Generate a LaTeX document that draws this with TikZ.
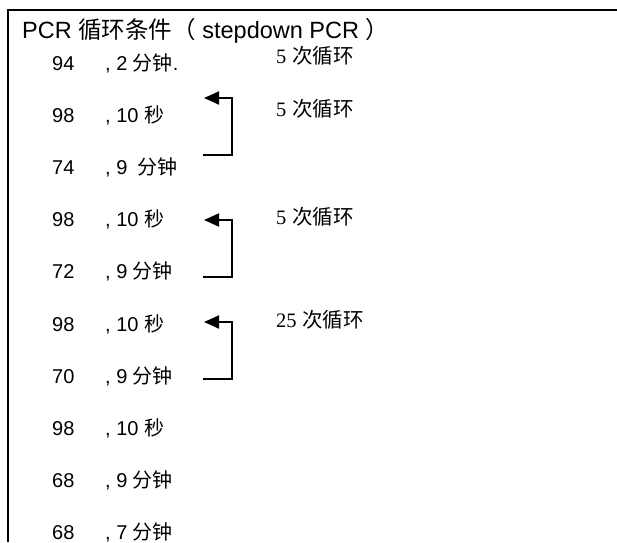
\documentclass[tikz,border=0pt]{standalone}
\usepackage{fontspec}
\setmainfont{Liberation Sans}
\newfontfamily\cjkfont{Noto Sans CJK SC}
\newfontfamily\tnrfont{Liberation Serif}
\newcommand{\zh}[1]{{\cjkfont #1}}
\usetikzlibrary{arrows.meta}
\begin{document}
\begin{tikzpicture}[x=1pt,y=-1pt,
  rowtxt/.style={anchor=base west,inner sep=0pt,font=\fontsize{20}{24}\selectfont},
  titletxt/.style={anchor=base west,inner sep=0pt,font=\fontsize{23.5}{26}\selectfont},
  cyc/.style={anchor=base west,inner sep=0pt,font=\fontsize{20.5}{24}\selectfont},
  bracket/.style={line width=2pt,-{Triangle[length=15pt,width=13pt]}},
  frameline/.style={line width=2pt}]
\useasboundingbox (0,0) rectangle (617,542);
\draw[frameline] (617,10) -- (8,10) -- (8,542);
\node[titletxt] (title) at (22,38) {PCR \zh{循环条件（} stepdown PCR \zh{）}};
\foreach \i/\a/\b in {
  0/94/{, 2 \zh{分钟}.},
  1/98/{, 10 \zh{秒}},
  2/74/{, 9\hspace{5pt} \zh{分钟}},
  3/98/{, 10 \zh{秒}},
  4/72/{, 9 \zh{分钟}},
  5/98/{, 10 \zh{秒}},
  6/70/{, 9 \zh{分钟}},
  7/98/{, 10 \zh{秒}},
  8/68/{, 9 \zh{分钟}},
  9/68/{, 7 \zh{分钟}}}{
  \node[rowtxt] (t\i) at (52,70+52.2*\i) {\a};
  \node[rowtxt] (r\i) at (105,70+52.2*\i) {\b};
}
\node[cyc] (c0) at (276,63) {{\tnrfont 5} \zh{次循环}};
\node[cyc] (c1) at (276,116.5) {{\tnrfont 5} \zh{次循环}};
\node[cyc] (c2) at (276,224.5) {{\tnrfont 5} \zh{次循环}};
\node[cyc] (c3) at (276,327.5) {{\tnrfont 25} \zh{次循环}};
\coordinate (a1) at (204,98);
\coordinate (s1) at (203,155);
\coordinate (a2) at (204,220);
\coordinate (s2) at (203,277);
\coordinate (a3) at (204,322);
\coordinate (s3) at (203,379);
\draw[bracket] (s1) -- ++(29,0) |- (a1);
\draw[bracket] (s2) -- ++(29,0) |- (a2);
\draw[bracket] (s3) -- ++(29,0) |- (a3);
\end{tikzpicture}
\end{document}
